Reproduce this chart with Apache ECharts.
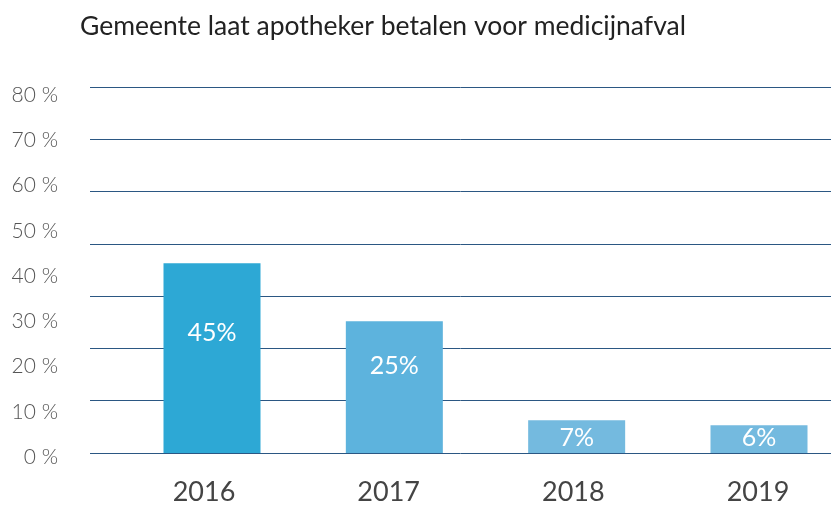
<!DOCTYPE html>
<html>
<head>
<meta charset="utf-8">
<script src="https://cdn.jsdelivr.net/npm/echarts@6/dist/echarts.min.js"></script>
<style>
  html, body { margin: 0; padding: 0; background: #fff; }
  #chart { width: 831px; height: 506px; }
</style>
</head>
<body>
<div id="chart"></div>
<script>
const years = ["2016", "2017", "2018", "2019"];
// bar heights as drawn (gridline scale), labels as printed on the bars
const barHeights = [36.3, 25.2, 6.25, 5.3];
const barLabels = ["45%", "25%", "7%", "6%"];
const yTicks = [0, 80, 10];

const barColors = ["#2da8d5", "#5db3dd", "#74badf", "#74badf"];
const labelShift = [-25, -21, 1.5, -1];
const gridColor = "#2b5783";
const font = "Lato, 'Noto Sans', sans-serif";

const chart = echarts.init(document.getElementById("chart"));
chart.setOption({
  animation: false,
  title: {
    text: "Gemeente laat apotheker betalen voor medicijnafval",
    left: 80,
    top: 13,
    padding: 0,
    textStyle: { fontFamily: font, fontSize: 26.5, fontWeight: "normal", color: "#222" }
  },
  grid: [
    { left: 90, right: 0, top: 87, height: 366 },
    { left: 212, width: 547, top: 87, height: 366 },
    { left: 204, width: 554, top: 95, height: 362 }
  ],
  xAxis: [
    { gridIndex: 0, type: "category", data: years, show: false },
    { gridIndex: 1, type: "category", data: years, boundaryGap: false, show: false },
    {
      gridIndex: 2,
      type: "category",
      data: years,
      boundaryGap: false,
      axisLine: { show: false },
      axisTick: { show: false },
      axisLabel: { margin: 22, fontFamily: font, fontSize: 27, color: "#444" }
    }
  ],
  yAxis: [
    {
      gridIndex: 0,
      type: "value",
      min: 0,
      max: 70,
      interval: 10,
      axisLabel: { show: false },
      axisLine: { show: false },
      axisTick: { show: false },
      splitLine: { lineStyle: { color: gridColor, width: 1 } }
    },
    { gridIndex: 1, type: "value", min: 0, max: 70, show: false },
    {
      gridIndex: 2,
      type: "value",
      min: yTicks[0],
      max: yTicks[1],
      interval: yTicks[2],
      axisLine: { show: false },
      axisTick: { show: false },
      splitLine: { show: false },
      axisLabel: {
        margin: 146,
        formatter: "{value} %",
        fontFamily: font,
        fontSize: 21,
        fontWeight: 300,
        color: "#555"
      }
    }
  ],
  series: [
    {
      type: "bar",
      xAxisIndex: 1,
      yAxisIndex: 1,
      barWidth: 97,
      clip: false,
      data: barHeights.map((v, i) => ({
        value: v,
        itemStyle: { color: barColors[i] },
        label: { offset: [0, labelShift[i]] }
      })),
      label: {
        show: true,
        position: "inside",
        formatter: (p) => barLabels[p.dataIndex],
        fontFamily: font,
        fontSize: 25,
        color: "#fff"
      }
    }
  ]
});
</script>
</body>
</html>
